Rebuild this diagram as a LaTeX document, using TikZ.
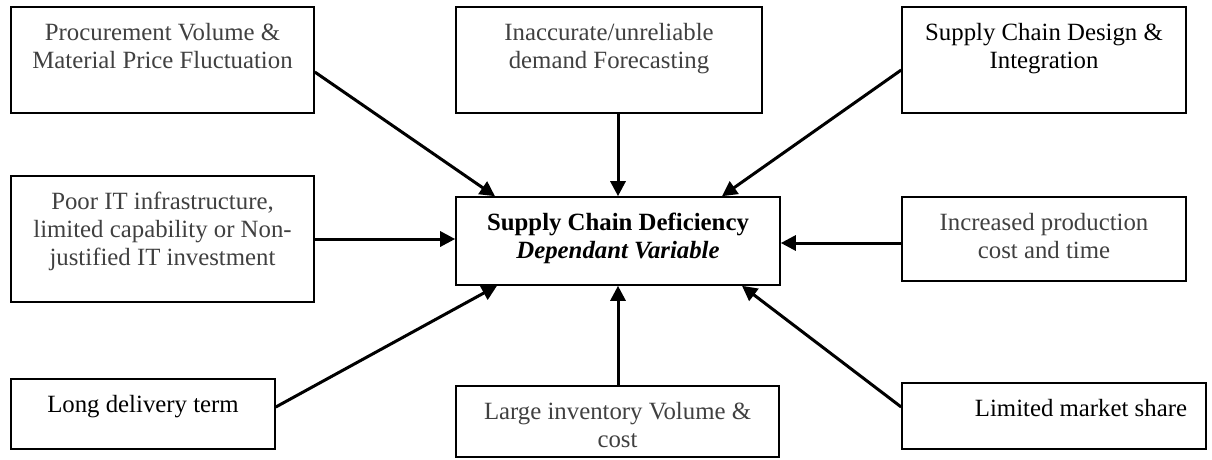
\documentclass[tikz,border=0pt]{standalone}
\usepackage{fontspec}
\setmainfont{Liberation Serif}
\usetikzlibrary{arrows.meta,calc}
\definecolor{softink}{RGB}{64,64,64}
% box content: fixed width and height, text set from the top
\newcommand{\boxtext}[3]{\parbox[c][#2][t]{#1}{\vspace*{16pt}\centering #3\par}}
\begin{document}
\begin{tikzpicture}[x=1pt, y=-1pt,
  box/.style={draw, line width=1.6pt, inner sep=0pt,
    font=\fontsize{24.8}{28}\selectfont, text=softink},
  arr/.style={line width=3pt, -{Triangle[length=15pt,width=15pt]}}]
\useasboundingbox (0,0) rectangle (1212,459);

% factor boxes
\node[box] (b1) at (162.5,60) {\boxtext{303pt}{106pt}{Procurement Volume \&\\Material Price Fluctuation}};
\node[box] (b2) at (609,60) {\boxtext{306pt}{106pt}{Inaccurate/unreliable\\demand Forecasting}};
\node[box, text=black] (b3) at (1044,60) {\boxtext{284pt}{106pt}{Supply Chain Design \&\\Integration}};
\node[box] (b4) at (162.5,239) {\boxtext{303pt}{126pt}{Poor IT infrastructure,\\limited capability or Non-\\justified IT investment}};
\node[box] (b6) at (1044,239) {\boxtext{284pt}{84pt}{Increased production\\cost and time}};
\node[box, text=black] (b7) at (143,414) {\boxtext{264pt}{70pt}{Long delivery term}};
\node[box] (b8) at (617.5,421.5) {\boxtext{323pt}{71pt}{Large inventory Volume \&\\cost}};
\node[box, text=black] (b9) at (1054,416) {\parbox[c][66pt][t]{304pt}{\vspace*{16pt}\raggedleft Limited market share\hspace*{19pt}\par}};

% dependent variable
\node[box, text=black] (c) at (618,241) {\boxtext{324pt}{88pt}{\textbf{Supply Chain Deficiency}\\\textbf{\textit{Dependant Variable}}}};

% influences
\draw[arr] ([yshift=-12pt]b1.east) -- ([xshift=-123pt]c.north);
\draw[arr] (c.north |- b2.south) -- (c.north);
\draw[arr] ([yshift=-10pt]b3.west) -- ([xshift=104pt]c.north);
\draw[arr] (b4.east) -- (b4.east -| c.west);
\draw[arr] ([yshift=-4pt]b6.west) -- ([yshift=-4pt]b6.west -| c.east);
\draw[arr] ([yshift=7pt]b7.east) -- ([xshift=-121pt]c.south);
\draw[arr] (c.south |- b8.north) -- (c.south);
\draw[arr] ([yshift=9pt]b9.west) -- ([xshift=124pt]c.south);
\end{tikzpicture}
\end{document}
